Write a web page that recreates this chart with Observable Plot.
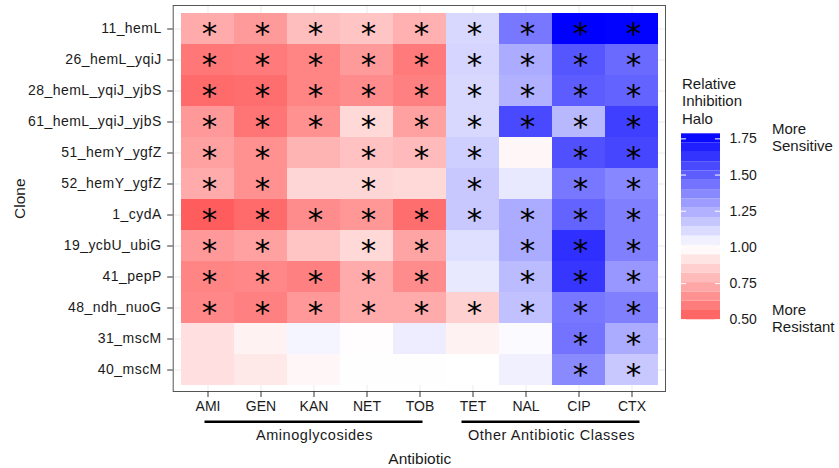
<!DOCTYPE html>
<html>
<head>
<meta charset="utf-8">
<script src="https://cdn.jsdelivr.net/npm/d3@7"></script>
<script src="https://cdn.jsdelivr.net/npm/@observablehq/plot@0.6"></script>
<style>
  html, body { margin: 0; padding: 0; background: #fff; }
  #wrap { position: relative; width: 839px; height: 468px; font-family: "Liberation Sans", Arial, sans-serif; color: #1a1a1a; }
  #wrap svg { position: absolute; left: 0; top: 0; }
  .lg { position: absolute; font-size: 15px; line-height: 17.4px; color: #1a1a1a; white-space: pre; }
</style>
</head>
<body>
<div id="wrap"></div>
<script>
// ---------- data ----------
const clones = ["11_hemL", "26_hemL_yqiJ", "28_hemL_yqiJ_yjbS", "61_hemL_yqiJ_yjbS", "51_hemY_ygfZ",
  "52_hemY_ygfZ", "1_cydA", "19_ycbU_ubiG", "41_pepP", "48_ndh_nuoG", "31_mscM", "40_mscM"];
const antibiotics = ["AMI", "GEN", "KAN", "NET", "TOB", "TET", "NAL", "CIP", "CTX"];
// relative inhibition halo, one row per clone (columns follow `antibiotics`)
const relativeHalo = [
  [0.74, 0.69, 0.80, 0.82, 0.76, 1.12, 1.42, 1.785, 1.78],
  [0.58, 0.59, 0.62, 0.69, 0.59, 1.13, 1.26, 1.52, 1.46],
  [0.545, 0.555, 0.62, 0.645, 0.61, 1.12, 1.24, 1.50, 1.48],
  [0.686, 0.575, 0.66, 0.88, 0.71, 1.12, 1.56, 1.22, 1.59],
  [0.71, 0.66, 0.77, 0.81, 0.79, 1.15, 0.975, 1.54, 1.57],
  [0.74, 0.66, 0.875, 0.875, 0.88, 1.17, 1.07, 1.42, 1.37],
  [0.50, 0.545, 0.645, 0.68, 0.555, 1.17, 1.26, 1.48, 1.39],
  [0.686, 0.71, 0.82, 0.88, 0.72, 1.10, 1.26, 1.64, 1.39],
  [0.62, 0.63, 0.61, 0.74, 0.645, 1.07, 1.21, 1.62, 1.32],
  [0.63, 0.61, 0.686, 0.74, 0.74, 0.855, 1.19, 1.42, 1.39],
  [0.90, 0.96, 1.03, 0.995, 1.055, 0.96, 1.015, 1.43, 1.26],
  [0.90, 0.93, 0.975, 0.998, 0.998, 1.0, 1.045, 1.36, 1.17]
];
// significance flags (1 = asterisk), same layout
const significant = [
  [1, 1, 1, 1, 1, 1, 1, 1, 1],
  [1, 1, 1, 1, 1, 1, 1, 1, 1],
  [1, 1, 1, 1, 1, 1, 1, 1, 1],
  [1, 1, 1, 1, 1, 1, 1, 1, 1],
  [1, 1, 0, 1, 1, 1, 0, 1, 1],
  [1, 1, 0, 1, 0, 1, 0, 1, 1],
  [1, 1, 1, 1, 1, 1, 1, 1, 1],
  [1, 1, 0, 1, 1, 0, 1, 1, 1],
  [1, 1, 1, 1, 1, 0, 1, 1, 1],
  [1, 1, 1, 1, 1, 1, 1, 1, 1],
  [0, 0, 0, 0, 0, 0, 0, 1, 1],
  [0, 0, 0, 0, 0, 0, 0, 1, 1]
];
const classLabels = ["Aminoglycosides", "Other Antibiotic Classes"];
const classSpans = [["AMI", "TOB"], ["TET", "CTX"]];
const legendBreaks = [0.5, 0.75, 1.0, 1.25, 1.5, 1.75];
const legendTitle = "Relative\nInhibition\nHalo";
const legendEnds = ["More\nSensitive", "More\nResistant"];
const axisTitles = {x: "Antibiotic", y: "Clone"};

// ---------- table ----------
const cells = [];
clones.forEach((c, i) => antibiotics.forEach((a, j) => {
  cells.push({clone: c, antibiotic: a, value: relativeHalo[i][j], sig: significant[i][j] === 1});
}));
const vmin = d3.min(cells, d => d.value), vmax = d3.max(cells, d => d.value);
const ext = Math.max(1 - vmin, vmax - 1);
const colorOpts = {type: "linear", domain: [1 - ext, 1, 1 + ext], range: ["#ff0000", "#ffffff", "#0000ff"], interpolate: "rgb"};

const FONT = "'Liberation Sans', Arial, sans-serif";
const INK = "#1a1a1a";

const chart = Plot.plot({
  width: 839, height: 468,
  marginLeft: 178.3, marginRight: 177.7, marginTop: 9.3, marginBottom: 80,
  style: {fontFamily: FONT, fontSize: "14px", color: INK, background: "transparent"},
  x: {domain: antibiotics, padding: 0, label: null},
  y: {domain: clones, padding: 0, label: null},
  color: colorOpts,
  marks: [
    Plot.gridX({stroke: "#ebebeb", strokeOpacity: 1, insetTop: -4.3, insetBottom: -3}),
    Plot.gridY({stroke: "#ebebeb", strokeOpacity: 1, insetLeft: -5.6, insetRight: -3.7}),
    Plot.cell(cells, {x: "antibiotic", y: "clone", fill: "value"}),
    Plot.text(cells.filter(d => d.sig), {x: "antibiotic", y: "clone", text: () => "*",
      fontFamily: "DejaVu Sans", fontSize: 31, fill: "#000", dx: 1.5, dy: 5}),
    Plot.frame({stroke: "#555", strokeWidth: 1, insetLeft: -5.6, insetRight: -3.7, insetTop: -4.3, insetBottom: -3}),
    Plot.axisY({dx: -5.6, tickSize: 5.5, tickPadding: 6, stroke: "#333", label: null, fontSize: 14}),
    Plot.axisX({dy: 3, tickSize: 6, tickPadding: 4, stroke: "#333", label: null, fontSize: 14})
  ]
});
document.getElementById("wrap").appendChild(chart);
d3.select(chart).selectAll('g[aria-label="y-axis tick label"]').attr("letter-spacing", "0.45px");

// class brackets and axis titles, placed through the scales
const xs = chart.scale("x"), ys = chart.scale("y");
const bw = xs.bandwidth;
const svg = d3.select(chart);
const extra = svg.append("g").attr("font-family", FONT).attr("fill", INK);
const padL = [3, 11], padR = [3, 8];
classSpans.forEach(([a, b], k) => {
  const x1 = xs.apply(a) + bw / 2 - padL[k];
  const x2 = xs.apply(b) + bw / 2 + padR[k];
  extra.append("line").attr("x1", x1).attr("x2", x2).attr("y1", 421.7).attr("y2", 421.7)
    .attr("stroke", "#000").attr("stroke-width", 2.4);
  extra.append("text").attr("x", (x1 + x2) / 2 + 1).attr("y", 440).attr("text-anchor", "middle")
    .attr("font-size", 14.5).attr("letter-spacing", "0.55px").text(classLabels[k]);
});
const xr = xs.range, yr = ys.range;
extra.append("text").attr("x", (xr[0] + xr[1]) / 2).attr("y", 464).attr("text-anchor", "middle")
  .attr("font-size", 15.5).text(axisTitles.x);
extra.append("text").attr("transform", `translate(24.5,${(yr[0] + yr[1]) / 2}) rotate(-90)`)
  .attr("text-anchor", "middle").attr("font-size", 15.5).text(axisTitles.y);

// ---------- legend (vertical colour bar) ----------
const nbin = 20;
const bins = d3.range(nbin).map(i => {
  const lo = vmin + (vmax - vmin) * i / nbin, hi = vmin + (vmax - vmin) * (i + 1) / nbin;
  return {lo, hi, mid: (lo + hi) / 2};
});
const legend = Plot.plot({
  width: 169, height: 270,
  marginLeft: 11, marginRight: 119, marginTop: 63.3, marginBottom: 20.7,
  style: {fontFamily: FONT, fontSize: "14px", color: INK, background: "transparent"},
  x: {domain: [0, 1], axis: null},
  y: {domain: [vmin, vmax], axis: null},
  color: colorOpts,
  marks: [
    Plot.rect(bins, {x1: 0, x2: 1, y1: "lo", y2: "hi", fill: "mid"}),
    Plot.ruleY(legendBreaks, {x1: 0, x2: 0.13, stroke: "#fff", strokeWidth: 1}),
    Plot.ruleY(legendBreaks, {x1: 0.87, x2: 1, stroke: "#fff", strokeWidth: 1}),
    Plot.axisY(legendBreaks, {anchor: "right", tickSize: 0, tickPadding: 9, tickFormat: d3.format(".2f"), label: null, fontSize: 14})
  ]
});
legend.style.left = "670px";
legend.style.top = "70px";
document.getElementById("wrap").appendChild(legend);

function addLabel(text, left, top) {
  const d = document.createElement("div");
  d.className = "lg";
  d.style.left = left + "px";
  d.style.top = top + "px";
  d.textContent = text;
  document.getElementById("wrap").appendChild(d);
}
addLabel(legendTitle, 682, 75);
addLabel(legendEnds[0], 772, 120);
addLabel(legendEnds[1], 772, 301);
</script>
</body>
</html>
